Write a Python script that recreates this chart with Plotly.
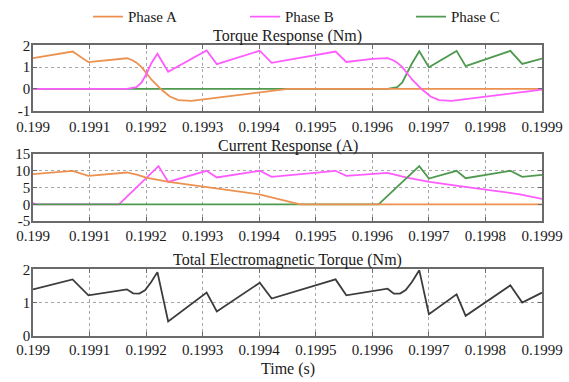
import plotly.graph_objects as go
from plotly.subplots import make_subplots

# ---- time axis ticks ----
x_ticks = [0.199, 0.1991, 0.1992, 0.1993, 0.1994, 0.1995, 0.1996, 0.1997, 0.1998, 0.1999]
x_tick_labels = ["0.199", "0.1991", "0.1992", "0.1993", "0.1994", "0.1995",
                 "0.1996", "0.1997", "0.1998", "0.1999"]

# ---- phase torque (Nm) ----
t_torque_a = [0.199, 0.19907, 0.199098, 0.199166, 0.199175, 0.199183, 0.199192, 0.199201,
              0.19921, 0.199227, 0.199242, 0.199257, 0.19928, 0.19945, 0.1999]
torque_a = [1.42, 1.72, 1.23, 1.41, 1.33, 1.21, 1.0, 0.72,
            0.41, -0.03, -0.35, -0.52, -0.55, 0.0, 0.0]

t_torque_b = [0.199, 0.199166, 0.199183, 0.199192, 0.199201, 0.199209, 0.19922, 0.199239,
              0.199307, 0.199325, 0.199401, 0.199422, 0.199535, 0.199554, 0.1996, 0.199627,
              0.199636, 0.199644, 0.199653, 0.199661, 0.199671, 0.199688, 0.199703, 0.199718,
              0.19974, 0.1999]
torque_b = [0.0, 0.0, 0.08, 0.3, 0.71, 1.17, 1.62, 0.79,
            1.77, 1.14, 1.76, 1.2, 1.72, 1.24, 1.38, 1.42,
            1.33, 1.21, 1.0, 0.72, 0.41, -0.03, -0.35, -0.52,
            -0.55, -0.03]

t_torque_c = [0.199, 0.199627, 0.199644, 0.199653, 0.199661, 0.19967, 0.199683, 0.1997,
              0.199749, 0.199765, 0.199844, 0.199865, 0.1999]
torque_c = [0.0, 0.0, 0.08, 0.3, 0.71, 1.17, 1.73, 1.0,
            1.75, 1.05, 1.75, 1.15, 1.4]

# ---- phase current (A) ----
t_current_a = [0.199, 0.19907, 0.199098, 0.199166, 0.199185, 0.1992, 0.19924, 0.1993,
               0.1994, 0.19944, 0.199472, 0.1999]
current_a = [9.0, 10.0, 8.5, 9.5, 8.8, 8.0, 6.7, 5.3,
             3.0, 1.3, 0.0, 0.0]

t_current_b = [0.199, 0.199006, 0.199152, 0.199222, 0.199239, 0.199307, 0.199325, 0.199401,
               0.199422, 0.199535, 0.199554, 0.199627, 0.199661, 0.199701, 0.199761, 0.199861,
               0.1999]
current_b = [0.4, 0.0, 0.0, 11.4, 6.7, 10.0, 8.0, 10.0,
             8.2, 10.0, 8.5, 9.4, 8.0, 6.7, 5.3, 3.0,
             1.6]

t_current_c = [0.199, 0.199611, 0.199683, 0.1997, 0.199749, 0.199765, 0.199844, 0.199865, 0.1999]
current_c = [0.0, 0.0, 11.4, 7.7, 10.0, 7.8, 10.0, 8.2, 8.8]

# ---- total electromagnetic torque (Nm) ----
t_total = [0.199, 0.19907, 0.199098, 0.199166, 0.199177, 0.199188, 0.199198, 0.199209,
           0.19922, 0.199239, 0.199307, 0.199325, 0.199401, 0.199422, 0.199535, 0.199554,
           0.199627, 0.199638, 0.199649, 0.199659, 0.19967, 0.199683, 0.1997, 0.199749,
           0.199765, 0.199844, 0.199865, 0.1999]
torque_total = [1.4, 1.7, 1.22, 1.4, 1.28, 1.27, 1.37, 1.62,
                1.92, 0.43, 1.3, 0.73, 1.6, 1.12, 1.7, 1.22,
                1.42, 1.27, 1.27, 1.38, 1.62, 1.98, 0.65, 1.25,
                0.6, 1.52, 1.0, 1.3]

# ---- styling ----
FONT = "Liberation Serif"
TEXT = "#1a1a1a"
FRAME = "#6a6a6a"
C_A = "#ec9150"
C_B = "#ff5cff"
C_C = "#4f9a4f"
C_T = "#3c3c3c"
LW = 1.8

W, H = 569, 382
x_dom = [33 / W, 542 / W]

def ydom(top_px, bottom_px):
    return [1 - bottom_px / H, 1 - top_px / H]

fig = make_subplots(rows=3, cols=1)

# torque panel: green underneath, pink on top
fig.add_trace(go.Scatter(x=t_torque_c, y=torque_c, mode="lines", name="Phase C",
                         line=dict(color=C_C, width=LW), legendgroup="C",
                         legendrank=3, legendwidth=110), row=1, col=1)
fig.add_trace(go.Scatter(x=t_torque_a, y=torque_a, mode="lines", name="Phase A",
                         line=dict(color=C_A, width=LW), legendgroup="A",
                         legendrank=1, legendwidth=112), row=1, col=1)
fig.add_trace(go.Scatter(x=t_torque_b, y=torque_b, mode="lines", name="Phase B",
                         line=dict(color=C_B, width=LW), legendgroup="B",
                         legendrank=2, legendwidth=121), row=1, col=1)

# current panel
fig.add_trace(go.Scatter(x=t_current_b, y=current_b, mode="lines", name="Phase B",
                         line=dict(color=C_B, width=LW), legendgroup="B",
                         showlegend=False), row=2, col=1)
fig.add_trace(go.Scatter(x=t_current_c, y=current_c, mode="lines", name="Phase C",
                         line=dict(color=C_C, width=LW), legendgroup="C",
                         showlegend=False), row=2, col=1)
fig.add_trace(go.Scatter(x=t_current_a, y=current_a, mode="lines", name="Phase A",
                         line=dict(color=C_A, width=LW), legendgroup="A",
                         showlegend=False), row=2, col=1)

# total torque panel
fig.add_trace(go.Scatter(x=t_total, y=torque_total, mode="lines", name="Total",
                         line=dict(color=C_T, width=LW), showlegend=False), row=3, col=1)

axis_common = dict(
    showline=True, linecolor=FRAME, linewidth=1.5, mirror="ticks",
    ticks="inside", ticklen=4, tickcolor=FRAME, tickwidth=1,
    showgrid=True, gridcolor="#a8a8a8", griddash="dot", gridwidth=1,
    zeroline=False, automargin=False,
    tickfont=dict(family=FONT, size=15, color=TEXT),
)

y_specs = [
    (ydom(41, 107), [-1, 2], [-1, 0, 1, 2], 2),
    (ydom(151, 219), [-5, 15], [-5, 0, 5, 10, 15], 0),
    (ydom(268, 335), [0, 2], [0, 1, 2], 0),
]
for i, (dom, rng, tv, x_off) in enumerate(y_specs, start=1):
    fig.update_xaxes(row=i, col=1, domain=x_dom, range=[0.199, 0.1999],
                     tickvals=x_ticks, ticktext=x_tick_labels,
                     ticklabelstandoff=x_off, **axis_common)
    fig.update_yaxes(row=i, col=1, domain=dom, range=rng, tickvals=tv,
                     ticktext=[str(v) for v in tv], ticklabelstandoff=-2,
                     **axis_common)

titles = [
    ("Torque Response (Nm)", 31),
    ("Current Response (A)", 143),
    ("Total Electromagnetic Torque (Nm)", 258),
    ("Time (s)", 369),
]
for text, ypx in titles:
    fig.add_annotation(text=text, xref="paper", yref="paper",
                       x=(x_dom[0] + x_dom[1]) / 2, y=1 - ypx / H,
                       xanchor="center", yanchor="middle", showarrow=False,
                       font=dict(family=FONT, size=16, color=TEXT))

fig.update_layout(
    width=W, height=H,
    margin=dict(l=0, r=0, t=0, b=0),
    paper_bgcolor="white", plot_bgcolor="white",
    font=dict(family=FONT, color=TEXT),
    legend=dict(orientation="h", x=88 / W, xanchor="left",
                y=1 - 12 / H, yanchor="middle",
                font=dict(family=FONT, size=15, color=TEXT),
                bgcolor="rgba(0,0,0,0)", itemwidth=30,
                traceorder="normal"),
)

fig.write_html("out.html")
